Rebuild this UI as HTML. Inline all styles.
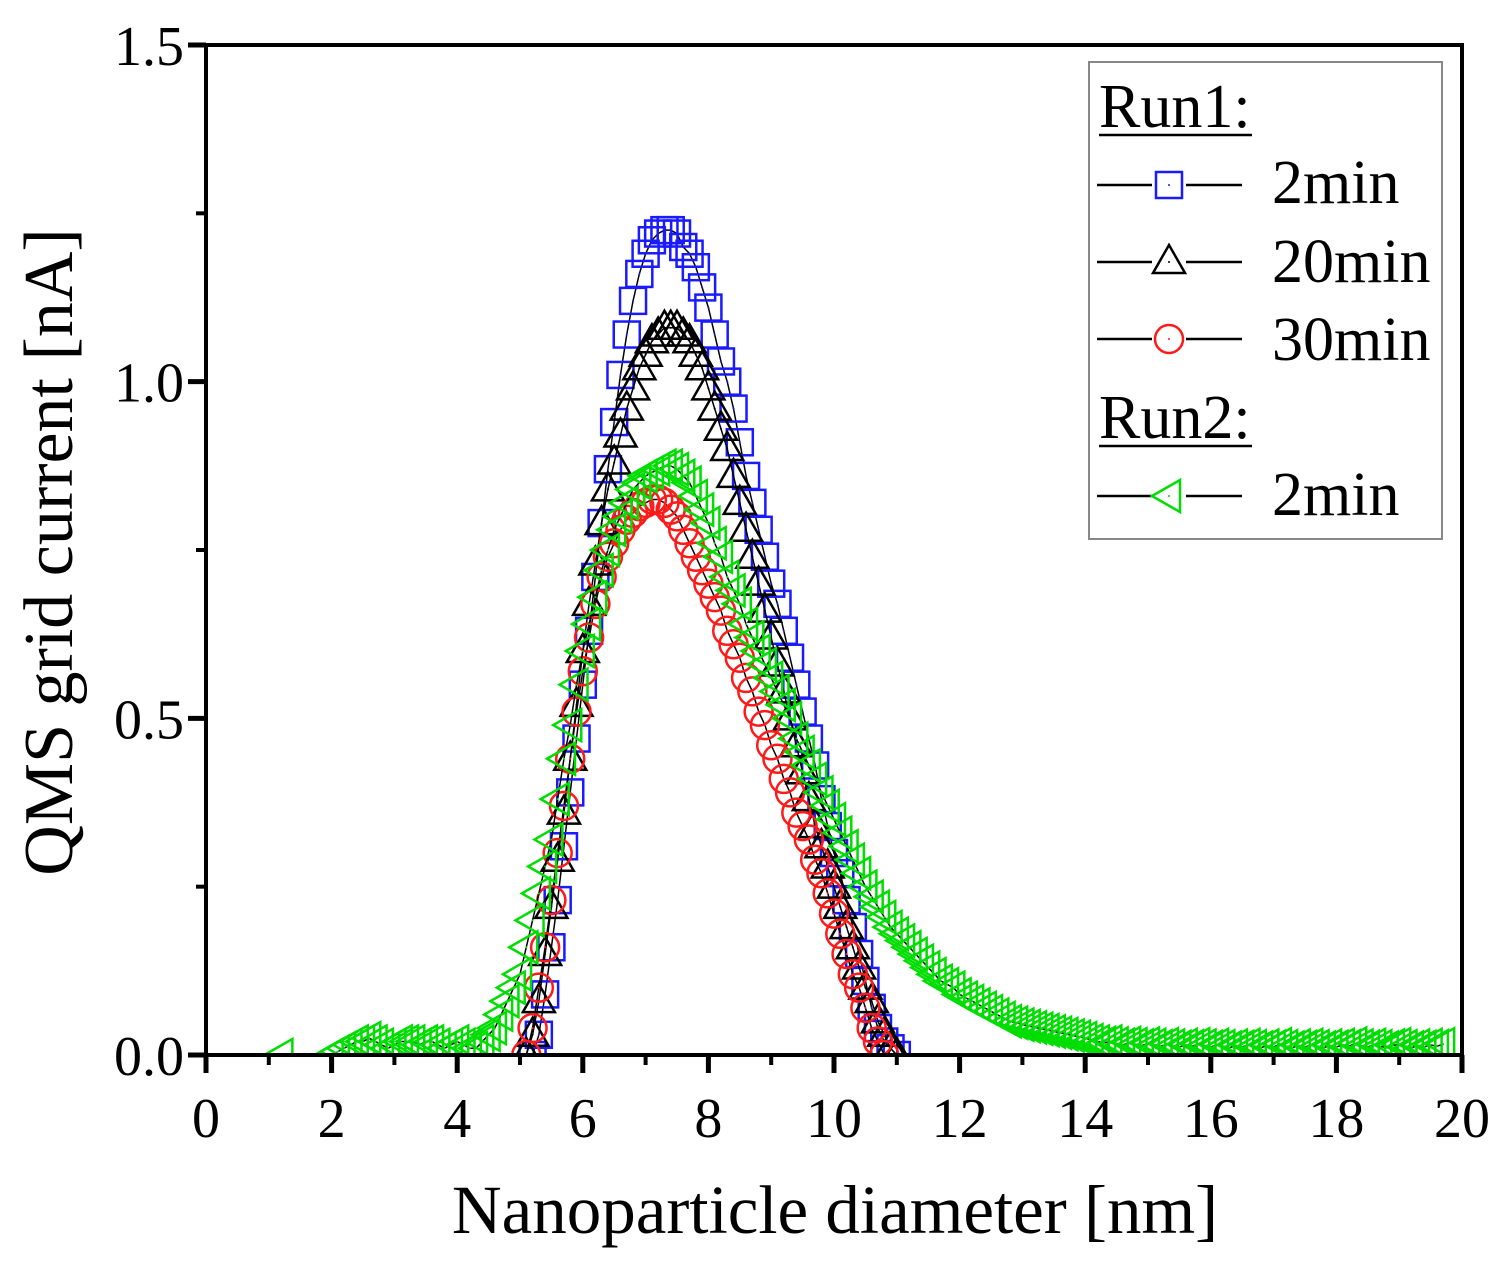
<!DOCTYPE html>
<html><head><meta charset="utf-8"><style>
html,body{margin:0;padding:0;background:#fff;}
svg{display:block;font-family:"Liberation Serif",serif;}
</style></head><body>
<svg id="chart" width="1511" height="1267" viewBox="0 0 1511 1267" xmlns="http://www.w3.org/2000/svg">
<defs><clipPath id="plotclip"><rect x="206" y="45" width="1256" height="1010"/></clipPath></defs>
<rect x="0" y="0" width="1511" height="1267" fill="#fff"/>
<g id="series" clip-path="url(#plotclip)"></g>
<g id="axes"></g>
<text x="835" y="1233" font-size="69" text-anchor="middle">Nanoparticle diameter [nm]</text>
<text transform="translate(72,552) rotate(-90)" font-size="70" text-anchor="middle">QMS grid current [nA]</text>
<g>
<rect x="1089" y="62" width="353" height="477" fill="#fff" stroke="#888" stroke-width="2"/>
<text x="1099" y="127" font-size="62">Run1:</text>
<line x1="1099" y1="135" x2="1252" y2="135" stroke="#000" stroke-width="2.5"/>
<text x="1272" y="203" font-size="62">2min</text>
<text x="1272" y="282" font-size="62">20min</text>
<text x="1272" y="360" font-size="62">30min</text>
<text x="1099" y="438" font-size="62">Run2:</text>
<line x1="1099" y1="446" x2="1252" y2="446" stroke="#000" stroke-width="2.5"/>
<text x="1272" y="515" font-size="62">2min</text>
<g id="legendsyms"></g>
</g>
</svg>
<script>
const xTicks = [0,2,4,6,8,10,12,14,16,18,20];
const yTicks = [0.0,0.5,1.0,1.5];
const yTickLabels = ["0.0","0.5","1.0","1.5"];

const blueX = [5.2,5.3,5.4,5.5,5.6,5.7,5.8,5.9,6.0,6.1,6.2,6.3,6.4,6.5,6.6,6.7,6.8,6.9,7.0,7.1,7.2,7.3,7.4,7.5,7.6,7.7,7.8,7.9,8.0,8.1,8.2,8.3,8.4,8.5,8.6,8.7,8.8,8.9,9.0,9.1,9.2,9.3,9.4,9.5,9.6,9.7,9.8,9.9,10.0,10.1,10.2,10.3,10.4,10.5,10.6,10.7,10.8,10.9,11.0];
const blueY = [0.00,0.03,0.09,0.16,0.23,0.31,0.39,0.47,0.55,0.63,0.71,0.79,0.87,0.94,1.01,1.07,1.12,1.16,1.19,1.21,1.22,1.225,1.225,1.22,1.20,1.19,1.17,1.14,1.11,1.07,1.03,1.00,0.96,0.91,0.86,0.82,0.78,0.74,0.70,0.67,0.63,0.59,0.55,0.51,0.47,0.43,0.38,0.34,0.30,0.27,0.23,0.19,0.15,0.11,0.07,0.04,0.02,0.01,0.0];

const blackX = [5.1,5.2,5.3,5.4,5.5,5.6,5.7,5.8,5.9,6.0,6.1,6.2,6.3,6.4,6.5,6.6,6.7,6.8,6.9,7.0,7.1,7.2,7.3,7.4,7.5,7.6,7.7,7.8,7.9,8.0,8.1,8.2,8.3,8.4,8.5,8.6,8.7,8.8,8.9,9.0,9.1,9.2,9.3,9.4,9.5,9.6,9.7,9.8,9.9,10.0,10.1,10.2,10.3,10.4,10.5,10.6,10.7,10.8,10.9,11.0];
const blackY = [0.0,0.03,0.08,0.15,0.22,0.29,0.36,0.44,0.52,0.60,0.67,0.73,0.79,0.84,0.88,0.92,0.96,0.99,1.02,1.04,1.06,1.07,1.08,1.08,1.08,1.07,1.06,1.04,1.02,0.99,0.96,0.93,0.90,0.86,0.82,0.78,0.74,0.70,0.66,0.62,0.58,0.54,0.50,0.46,0.42,0.38,0.34,0.31,0.28,0.25,0.22,0.19,0.16,0.13,0.10,0.08,0.05,0.03,0.01,0.0];

const redX = [5.1,5.2,5.3,5.4,5.5,5.6,5.7,5.8,5.9,6.0,6.1,6.2,6.3,6.4,6.5,6.6,6.7,6.8,6.9,7.0,7.1,7.2,7.3,7.4,7.5,7.6,7.7,7.8,7.9,8.0,8.1,8.2,8.3,8.4,8.5,8.6,8.7,8.8,8.9,9.0,9.1,9.2,9.3,9.4,9.5,9.6,9.7,9.8,9.9,10.0,10.1,10.2,10.3,10.4,10.5,10.6,10.7,10.8];
const redY = [0.0,0.04,0.10,0.16,0.23,0.30,0.37,0.44,0.51,0.57,0.62,0.67,0.71,0.74,0.76,0.78,0.795,0.805,0.815,0.82,0.825,0.825,0.82,0.81,0.80,0.78,0.76,0.74,0.72,0.70,0.68,0.66,0.63,0.61,0.59,0.56,0.54,0.51,0.49,0.46,0.44,0.41,0.39,0.36,0.34,0.32,0.29,0.27,0.24,0.21,0.18,0.15,0.12,0.10,0.07,0.04,0.02,0.0];

const greenX = [1.2,2.0,2.1,2.2,2.3,2.4,2.5,2.6,2.7,2.8,2.9,3.0,3.1,3.2,3.3,3.4,3.5,3.6,3.7,3.8,3.9,4.0,4.1,4.2,4.3,4.4,4.5,4.6,4.7,4.8,4.9,5.0,5.1,5.2,5.3,5.4,5.5,5.6,5.7,5.8,5.9,6.0,6.1,6.2,6.3,6.4,6.5,6.6,6.7,6.8,6.9,7.0,7.1,7.2,7.3,7.4,7.5,7.6,7.7,7.8,7.9,8.0,8.1,8.2,8.3,8.4,8.5,8.6,8.7,8.8,8.9,9.0,9.1,9.2,9.3,9.4,9.5,9.6,9.7,9.8,9.9,10.0,10.1,10.2,10.3,10.4,10.5,10.6,10.7,10.8,10.9,11.0,11.1,11.2,11.3,11.4,11.5,11.6,11.7,11.8,11.9,12.0,12.1,12.2,12.3,12.4,12.5,12.6,12.7,12.8,12.9,13.0,13.1,13.2,13.3,13.4,13.5,13.6,13.7,13.8,13.9,14.0,14.1,14.2,14.3,14.4,14.5,14.6,14.7,14.8,14.9,15.0,15.1,15.2,15.3,15.4,15.5,15.6,15.7,15.8,15.9,16.0,16.1,16.2,16.3,16.4,16.5,16.6,16.7,16.8,16.9,17.0,17.1,17.2,17.3,17.4,17.5,17.6,17.7,17.8,17.9,18.0,18.1,18.2,18.3,18.4,18.5,18.6,18.7,18.8,18.9,19.0,19.1,19.2,19.3,19.4,19.5,19.6,19.7,19.8,19.9,20.0];
const greenY = [0.0,0.0,0.005,0.01,0.015,0.02,0.02,0.025,0.02,0.015,0.01,0.015,0.02,0.02,0.02,0.015,0.02,0.02,0.015,0.01,0.015,0.02,0.015,0.01,0.01,0.02,0.03,0.04,0.06,0.08,0.10,0.12,0.16,0.20,0.24,0.28,0.32,0.38,0.44,0.49,0.55,0.60,0.64,0.68,0.72,0.75,0.78,0.80,0.82,0.84,0.85,0.86,0.865,0.87,0.875,0.875,0.87,0.86,0.85,0.83,0.81,0.79,0.76,0.74,0.71,0.69,0.67,0.64,0.62,0.60,0.58,0.56,0.54,0.52,0.50,0.47,0.45,0.43,0.41,0.39,0.37,0.35,0.33,0.31,0.29,0.27,0.25,0.235,0.22,0.205,0.19,0.18,0.17,0.16,0.15,0.14,0.13,0.12,0.11,0.105,0.10,0.09,0.085,0.08,0.075,0.07,0.065,0.06,0.055,0.05,0.048,0.045,0.043,0.041,0.039,0.037,0.035,0.033,0.031,0.029,0.027,0.025,0.022,0.02,0.018,0.02,0.017,0.015,0.018,0.016,0.014,0.017,0.015,0.013,0.016,0.014,0.012,0.015,0.013,0.016,0.014,0.012,0.015,0.013,0.011,0.014,0.012,0.015,0.013,0.011,0.014,0.012,0.016,0.013,0.011,0.014,0.012,0.015,0.013,0.011,0.014,0.012,0.015,0.013,0.017,0.014,0.012,0.015,0.013,0.011,0.014,0.016,0.013,0.011,0.014,0.012,0.015,0.013,0.016];

const X0=206, X1=1462, Y0=1055, Y1=45;
function sx(v){return X0+(v-0)/(20-0)*(X1-X0);}
function sy(v){return Y0-(v-0)/(1.5-0)*(Y0-Y1);}
const NS="http://www.w3.org/2000/svg";
function mk(tag,attrs,parent){const e=document.createElementNS(NS,tag);for(const k in attrs)e.setAttribute(k,attrs[k]);parent.appendChild(e);return e;}

const axes=document.getElementById('axes');
const frame=mk('path',{d:`M${X0},${Y0} L${X0},${Y1} L${X1},${Y1} L${X1},${Y0} Z`,fill:'none',stroke:'#000','stroke-width':4},axes);


xTicks.forEach((t,i)=>{
  const x=sx(t);
  const tk=mk('line',{x1:x,y1:Y0,x2:x,y2:Y0+18,stroke:'#000','stroke-width':5},axes);
  
  
  if(i<xTicks.length-1){
    const mx=sx((t+xTicks[i+1])/2);
    const mt=mk('line',{x1:mx,y1:Y0,x2:mx,y2:Y0+10,stroke:'#000','stroke-width':4},axes);
    
    
  }
  const lb=mk('text',{x:x,y:Y0+82,'font-size':56,'text-anchor':'middle'},axes);
  lb.textContent=String(t);
  
  
});
yTicks.forEach((t,i)=>{
  const y=sy(t);
  const tk=mk('line',{x1:X0-18,y1:y,x2:X0,y2:y,stroke:'#000','stroke-width':5},axes);
  
  
  if(i<yTicks.length-1){
    const my=sy((t+yTicks[i+1])/2);
    const mt=mk('line',{x1:X0-10,y1:my,x2:X0,y2:my,stroke:'#000','stroke-width':4},axes);
    
    
  }
  const lb=mk('text',{x:X0-22,y:y+20,'font-size':56,'text-anchor':'end'},axes);
  lb.textContent=yTickLabels[i];
  
  
});

function marker(kind,cx,cy,color,parent){
  let e;
  if(kind==='square') e=mk('rect',{x:cx-13,y:cy-13,width:26,height:26,fill:'none',stroke:color,'stroke-width':2.5},parent);
  else if(kind==='tri') e=mk('path',{d:`M${cx},${cy-17} L${cx+16},${cy+11} L${cx-16},${cy+11} Z`,fill:'none',stroke:color,'stroke-width':2.5},parent);
  else if(kind==='circle') e=mk('circle',{cx:cx,cy:cy,r:14,fill:'none',stroke:color,'stroke-width':2.5},parent);
  else e=mk('path',{d:`M${cx-17},${cy} L${cx+11},${cy-16} L${cx+11},${cy+16} Z`,fill:'none',stroke:color,'stroke-width':2.5},parent);
  mk('circle',{cx:cx,cy:cy,r:1,fill:color},parent);
  return e;
}
const seriesG=document.getElementById('series');
const defs=[
  {name:'run1-2min',xs:blueX,ys:blueY,kind:'square',color:'#1a1aff'},
  {name:'run1-20min',xs:blackX,ys:blackY,kind:'tri',color:'#000'},
  {name:'run1-30min',xs:redX,ys:redY,kind:'circle',color:'#ff1a1a'},
  {name:'run2-2min',xs:greenX,ys:greenY,kind:'ltri',color:'#00dd00'}
];
defs.forEach(s=>{
  const g=mk('g',{},seriesG);
  
  
  const pts=s.xs.map((x,i)=>sx(x)+','+sy(s.ys[i])).join(' ');
  const ln=mk('polyline',{points:pts,fill:'none',stroke:'#000','stroke-width':1.5},g);
  
  
  s.xs.forEach((x,i)=>{
    const m=marker(s.kind,sx(x),sy(s.ys[i]),s.color,g);
    
    
  });
});
const lg=document.getElementById('legendsyms');
[[185,'square','#1a1aff'],[262,'tri','#000'],[339,'circle','#ff1a1a'],[496,'ltri','#00dd00']].forEach(r=>{
  const l=mk('line',{x1:1097,y1:r[0],x2:1242,y2:r[0],stroke:'#000','stroke-width':2.5},lg);
  
  
  mk('rect',{x:1152,y:r[0]-18,width:34,height:36,fill:'#fff'},lg);
  const m=marker(r[1],1169,r[0],r[2],lg);
  
  
});
</script>
</body></html>
